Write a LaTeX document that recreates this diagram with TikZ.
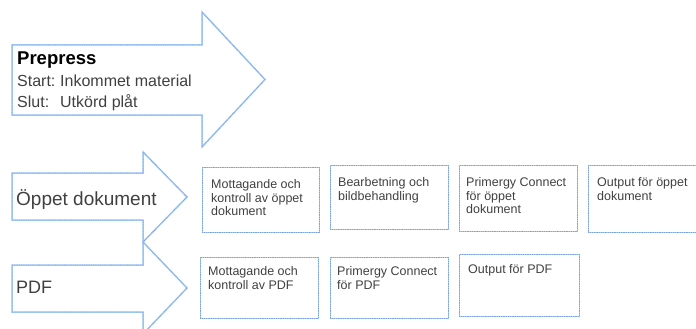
\documentclass[tikz,border=0pt]{standalone}
\usepackage{fontspec}
\setmainfont{Liberation Sans}
\usetikzlibrary{positioning}

\definecolor{edgelight}{RGB}{160,204,244}
\definecolor{edgedot}{RGB}{132,160,228}
\definecolor{inkgray}{RGB}{64,64,64}

\tikzset{
    outline/.style = {
        draw = edgedot, line width = 0.8pt, densely dotted,
        preaction = {draw = edgelight, line width = 1.5pt, solid}
    },
    stepbox/.style = {
        outline, rectangle, anchor = north west, inner sep = 0pt
    },
    steptext/.style = {
        anchor = north west, inner sep = 0pt, align = left,
        text = inkgray, font = \fontsize{12.5}{13.8}\selectfont
    }
}

\begin{document}
\begin{tikzpicture}[x = 1pt, y = -1pt]

        \useasboundingbox (0, 0) rectangle (696, 329);

        % Corner points of the three block arrows.
        \coordinate (PA) at (12, 45);
        \coordinate (PB) at (202, 45);
        \coordinate (PC) at (202, 12);
        \coordinate (PT) at (265, 79.5);
        \coordinate (PD) at (202, 147);
        \coordinate (PE) at (202, 115);
        \coordinate (PF) at (12, 115);

        \coordinate (OA) at (12, 173);
        \coordinate (OB) at (143, 173);
        \coordinate (OC) at (143, 152);
        \coordinate (OT) at (187, 197);
        \coordinate (OD) at (143, 242);
        \coordinate (OE) at (143, 220);
        \coordinate (OF) at (12, 220);

        \coordinate (FA) at (12, 265);
        \coordinate (FB) at (143, 265);
        \coordinate (FC) at (143, 242);
        \coordinate (FT) at (187, 288);
        \coordinate (FD) at (143, 334);
        \coordinate (FE) at (143, 312);
        \coordinate (FF) at (12, 312);

        % Draw the block arrows.
        \draw[outline] (PA) -- (PB) -- (PC) -- (PT) -- (PD) -- (PE) -- (PF) -- cycle;
        \draw[outline] (OA) -- (OB) -- (OC) -- (OT) -- (OD) -- (OE) -- (OF) -- cycle;
        \draw[outline] (FA) -- (FB) -- (FC) -- (FT) -- (FD) -- (FE) -- (FF) -- cycle;

        % Texts inside the arrows.
        \node[anchor = base west, inner sep = 0pt, font = \fontsize{18.5}{20}\selectfont\bfseries]
            (prepress) at (17, 65) {Prepress};
        \node[anchor = base west, inner sep = 0pt, text = inkgray, font = \fontsize{16}{18}\selectfont]
            (start) at (17, 86) {\makebox[43pt][l]{Start:}Inkommet material};
        \node[anchor = base west, inner sep = 0pt, text = inkgray, font = \fontsize{16}{18}\selectfont]
            (slut) at (17, 107) {\makebox[43pt][l]{Slut:}Utkörd plåt};
        \node[anchor = base west, inner sep = 0pt, text = inkgray, font = \fontsize{19}{21}\selectfont]
            (oppet) at (16, 205) {Öppet dokument};
        \node[anchor = base west, inner sep = 0pt, text = inkgray, font = \fontsize{18}{20}\selectfont]
            (pdf) at (16, 293) {PDF};

        % Steps for the open document.
        \node[stepbox, minimum width = 117pt, minimum height = 65pt] (oppet1) at (202, 167) {};
        \node[stepbox, minimum width = 118pt, minimum height = 64pt] (oppet2) at (330, 165) {};
        \node[stepbox, minimum width = 118pt, minimum height = 66pt] (oppet3) at (459, 165) {};
        \node[stepbox, minimum width = 118pt, minimum height = 67pt] (oppet4) at (588, 165) {};

        \node[steptext] (oppet1text) at ([shift = {(9, 12)}]oppet1.north west)
            {Mottagande och\\kontroll av öppet\\dokument};
        \node[steptext] (oppet2text) at ([shift = {(8, 12)}]oppet2.north west)
            {Bearbetning och\\bildbehandling};
        \node[steptext] (oppet3text) at ([shift = {(7, 12)}]oppet3.north west)
            {Primergy Connect\\för öppet\\dokument};
        \node[steptext] (oppet4text) at ([shift = {(9, 12)}]oppet4.north west)
            {Output för öppet\\dokument};

        % Steps for PDF.
        \node[stepbox, minimum width = 118pt, minimum height = 61pt] (pdf1) at (200, 257) {};
        \node[stepbox, minimum width = 118pt, minimum height = 61pt] (pdf2) at (330, 257) {};
        \node[stepbox, minimum width = 120pt, minimum height = 62pt] (pdf3) at (459, 254) {};

        \node[steptext] (pdf1text) at ([shift = {(8, 9)}]pdf1.north west)
            {Mottagande och\\kontroll av PDF};
        \node[steptext] (pdf2text) at ([shift = {(7, 9)}]pdf2.north west)
            {Primergy Connect\\för PDF};
        \node[steptext] (pdf3text) at ([shift = {(9, 10)}]pdf3.north west)
            {Output för PDF};
    \end{tikzpicture}
\end{document}
